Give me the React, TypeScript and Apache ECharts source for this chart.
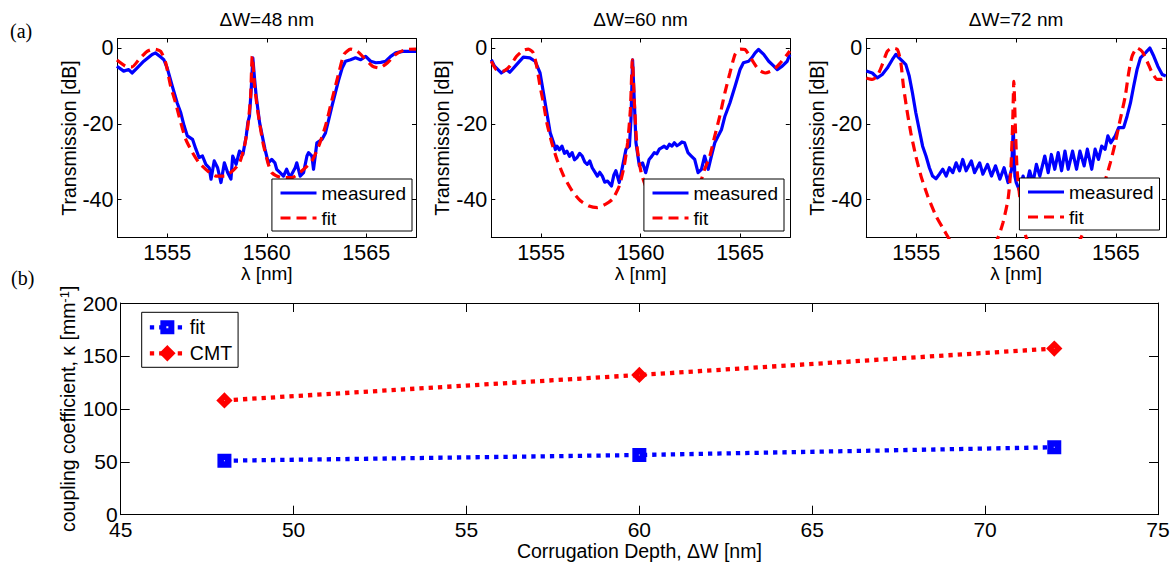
import { useEffect, useRef } from 'react';
import * as echarts from 'echarts';

const FONT = '"Liberation Sans", Arial, Helvetica, sans-serif';
const SERIF = '"Liberation Serif", "Times New Roman", serif';

// ---------- data ----------
const panelTitles = ['ΔW=48 nm', 'ΔW=60 nm', 'ΔW=72 nm'];
const lambdaTicks = [1555, 1560, 1565];
const dbTicks = [-40, -20, 0];

// ΔW = 48 nm
const meas48X = [1552.47, 1552.81, 1553.06, 1553.23, 1553.48, 1553.82, 1554.24, 1554.41, 1554.67, 1554.83, 1555.0, 1555.25, 1555.5, 1555.68, 1555.85, 1556.01, 1556.27, 1556.44, 1556.6, 1556.77, 1556.94, 1557.11, 1557.2, 1557.36, 1557.53, 1557.7, 1557.87, 1558.04, 1558.2, 1558.29, 1558.46, 1558.63, 1558.8, 1558.97, 1559.05, 1559.13, 1559.22, 1559.3, 1559.39, 1559.47, 1559.64, 1559.81, 1559.91, 1560.08, 1560.25, 1560.41, 1560.5, 1560.67, 1560.84, 1561.0, 1561.17, 1561.43, 1561.51, 1561.68, 1561.85, 1562.02, 1562.1, 1562.27, 1562.35, 1562.52, 1562.78, 1562.95, 1563.12, 1563.28, 1563.45, 1563.62, 1563.79, 1563.96, 1564.21, 1564.46, 1564.72, 1564.97, 1565.22, 1565.48, 1565.73, 1565.98, 1566.23, 1566.48, 1566.83, 1567.17, 1567.5];
const meas48Y = [-4.8, -6.1, -5.7, -6.6, -5.3, -3.5, -1.7, -1.3, -2.4, -3.1, -5.3, -10, -14.5, -17.1, -20.6, -23.2, -24.1, -26.7, -28.9, -28.5, -30.7, -31.6, -34.6, -29.8, -31.6, -35.5, -30.3, -32.9, -34.6, -28.5, -30.7, -27.2, -28.1, -23.2, -19.7, -18, -10.9, -2.6, -8.3, -12.7, -19.7, -24.1, -26.7, -30.3, -29.4, -30.3, -32, -32.9, -33.8, -32, -34.2, -31.6, -30.3, -33.8, -32.9, -28.5, -27.6, -28.5, -32, -25, -24.1, -22.4, -18.8, -15.3, -11.8, -8.3, -5.3, -3.5, -3.1, -2.6, -3.1, -2.2, -3.5, -3.9, -3.8, -3.5, -2.2, -1.3, -0.9, -0.9, -0.9];
const fit48X = [1552.47, 1552.9, 1553.23, 1553.57, 1553.99, 1554.33, 1554.67, 1554.92, 1555.17, 1555.42, 1555.68, 1555.93, 1556.27, 1556.6, 1557.02, 1557.45, 1557.87, 1558.29, 1558.63, 1558.88, 1559.05, 1559.19, 1559.27, 1559.39, 1559.56, 1559.81, 1560.06, 1560.25, 1560.75, 1561.26, 1561.77, 1562.27, 1562.61, 1562.95, 1563.28, 1563.62, 1563.88, 1564.21, 1564.55, 1564.89, 1565.31, 1565.65, 1566.07, 1566.48, 1566.99, 1567.5];
const fit48Y = [-3.2, -4.8, -5.0, -3.1, -0.9, -0.3, -0.9, -3.9, -10.1, -14.5, -19.7, -24.1, -27.6, -30.3, -32.4, -33.8, -33.8, -32.4, -30.3, -25.9, -20.6, -12.7, -2.2, -10.1, -17.1, -25, -30.3, -32.9, -34.2, -34.2, -32.4, -29.8, -25.9, -20.6, -13.6, -6.6, -1.7, -0.3, -0.9, -2.6, -4.8, -5.3, -3.9, -1.7, -0.4, -0.3];

// ΔW = 60 nm
const meas60X = [1552.5, 1552.66, 1553.0, 1553.26, 1553.43, 1553.77, 1554.11, 1554.44, 1554.7, 1554.95, 1555.12, 1555.29, 1555.46, 1555.63, 1555.72, 1555.8, 1555.92, 1556.05, 1556.18, 1556.3, 1556.43, 1556.56, 1556.68, 1556.81, 1556.94, 1557.07, 1557.2, 1557.32, 1557.45, 1557.57, 1557.7, 1557.83, 1557.95, 1558.08, 1558.2, 1558.34, 1558.54, 1558.66, 1558.76, 1558.93, 1559.1, 1559.27, 1559.44, 1559.52, 1559.6, 1559.69, 1559.77, 1559.94, 1560.1, 1560.26, 1560.43, 1560.56, 1560.69, 1560.82, 1560.94, 1561.07, 1561.19, 1561.32, 1561.45, 1561.58, 1561.7, 1561.83, 1561.95, 1562.08, 1562.21, 1562.38, 1562.55, 1562.72, 1562.89, 1563.06, 1563.22, 1563.4, 1563.56, 1563.73, 1563.9, 1564.07, 1564.24, 1564.49, 1564.75, 1565.0, 1565.17, 1565.43, 1565.59, 1565.76, 1565.93, 1566.19, 1566.44, 1566.7, 1566.87, 1567.12, 1567.37, 1567.5];
const meas60Y = [-3.1, -4.8, -6.6, -5.7, -6.4, -4.4, -2.4, -2.6, -3.5, -6.6, -11.8, -17.1, -22.4, -25, -26.8, -25.9, -26.9, -25.9, -27.8, -27.2, -28.6, -27.6, -29.5, -28.9, -27.8, -28.5, -30.1, -30.7, -29.8, -31.6, -32.7, -33.8, -32.8, -33.8, -35.4, -35.1, -36.4, -33.5, -32.4, -35.5, -31.1, -26.7, -25.9, -18.8, -3.1, -14.5, -25, -31.1, -30.3, -32.9, -29.4, -28.6, -27.6, -27.9, -26.7, -26.3, -25.9, -26.5, -25.4, -25.9, -25, -25.8, -25.4, -24.8, -25, -27.6, -28.5, -29.4, -32.9, -32, -28.5, -32, -28.5, -25, -23.2, -21.5, -18, -14.5, -10.1, -5.7, -3.9, -3.5, -2.6, -1.3, -0.4, -1.7, -3.5, -4.8, -5.7, -4.8, -3.5, -1.7];
const fit60X = [1552.5, 1552.75, 1553.09, 1553.43, 1553.77, 1554.11, 1554.36, 1554.61, 1554.78, 1554.95, 1555.12, 1555.29, 1555.54, 1555.8, 1556.14, 1556.56, 1556.98, 1557.41, 1557.83, 1558.25, 1558.59, 1558.93, 1559.18, 1559.35, 1559.49, 1559.59, 1559.69, 1559.82, 1560.03, 1560.3, 1560.7, 1561.2, 1561.7, 1562.2, 1562.7, 1563.06, 1563.22, 1563.48, 1563.73, 1563.98, 1564.24, 1564.49, 1564.75, 1565.0, 1565.25, 1565.59, 1565.93, 1566.27, 1566.7, 1567.03, 1567.37, 1567.5];
const fit60Y = [-3.5, -5.7, -6.1, -4.8, -2.2, -0.6, -0.3, -1.3, -4.8, -10.1, -14.5, -19.7, -25, -29.4, -33.8, -37.7, -40.3, -41.7, -42.1, -41.2, -39.9, -36.4, -31.1, -25, -16.2, -3.1, -14.5, -25.9, -32.9, -37, -40.5, -42, -41.8, -40.5, -37.5, -34.6, -32, -28.5, -23.2, -18, -11.8, -6.6, -1.7, -0.3, -0.4, -3.1, -5.7, -6.6, -5.7, -3.9, -1.7, -0.8];

// ΔW = 72 nm
const meas72X = [1552.5, 1552.8, 1553.05, 1553.3, 1553.55, 1553.8, 1553.98, 1554.14, 1554.31, 1554.48, 1554.65, 1554.81, 1554.98, 1555.15, 1555.32, 1555.49, 1555.66, 1555.82, 1555.99, 1556.16, 1556.33, 1556.5, 1556.66, 1556.83, 1557.0, 1557.17, 1557.33, 1557.5, 1557.76, 1557.92, 1558.18, 1558.34, 1558.57, 1558.77, 1558.97, 1559.19, 1559.4, 1559.6, 1559.78, 1559.86, 1559.94, 1560.01, 1560.18, 1560.35, 1560.51, 1560.68, 1560.85, 1561.02, 1561.19, 1561.44, 1561.61, 1561.77, 1561.94, 1562.11, 1562.28, 1562.45, 1562.61, 1562.83, 1563.03, 1563.2, 1563.41, 1563.57, 1563.79, 1563.96, 1564.13, 1564.29, 1564.46, 1564.6, 1564.75, 1564.97, 1565.14, 1565.39, 1565.56, 1565.73, 1565.89, 1566.06, 1566.23, 1566.48, 1566.7, 1566.9, 1567.1, 1567.32, 1567.5];
const meas72Y = [-6.1, -6.6, -7.9, -7, -5.3, -3.1, -1.7, -2.6, -3.5, -4.4, -7.4, -11.8, -17.1, -21.5, -25.9, -28.5, -31.6, -33.8, -34.5, -33.3, -32, -33.8, -31.6, -32.9, -30.3, -32.4, -29.4, -32.4, -29.8, -32.9, -30.3, -33.3, -30.7, -33.8, -31.1, -34.6, -31.6, -35.5, -32, -21, -33.8, -35.5, -37.7, -33.8, -36.4, -32.4, -35.5, -30.7, -33.8, -28.5, -32.9, -28.1, -32, -27.6, -32.4, -27.2, -32, -27.2, -32, -27.2, -31.1, -26.7, -32, -26.7, -29.4, -25.9, -26.7, -23.2, -25, -23.2, -21, -21, -18, -14.5, -10.1, -5.7, -2.6, -1.3, 0, -2.2, -4.8, -7, -7.4];
const fit72X = [1552.5, 1552.8, 1553.05, 1553.3, 1553.55, 1553.8, 1554.06, 1554.23, 1554.36, 1554.53, 1554.73, 1554.98, 1555.24, 1555.57, 1555.99, 1556.41, 1556.66, 1557.2, 1557.9, 1558.6, 1559.1, 1559.35, 1559.6, 1559.74, 1559.83, 1559.89, 1559.96, 1560.05, 1560.18, 1560.35, 1560.51, 1561.0, 1561.7, 1562.5, 1563.2, 1563.46, 1563.71, 1564.04, 1564.38, 1564.72, 1564.97, 1565.22, 1565.47, 1565.64, 1565.81, 1566.06, 1566.31, 1566.56, 1566.82, 1567.07, 1567.32, 1567.5];
const fit72Y = [-7.9, -8.3, -7.4, -4.4, -0.9, 0, -0.4, -3.9, -10.1, -16.2, -22.4, -28.5, -33.8, -39, -44.3, -48.2, -50.5, -56, -58, -55, -50, -46, -39.9, -32, -20, -8.8, -20, -32, -39, -46, -50, -55, -58, -56, -50.5, -47.8, -45.2, -40.8, -36.4, -30.3, -25, -18.8, -12.7, -6.6, -2.2, 0, -0.9, -3.5, -6.6, -8.3, -8.3, -7.6];

// (b) coupling coefficient
const depthNm = [48, 60, 72];
const kappaFit = [51, 56.4, 63.7];
const kappaCMT = [108, 132, 157];

const measuredX = [meas48X, meas60X, meas72X];
const measuredY = [meas48Y, meas60Y, meas72Y];
const fitX = [fit48X, fit60X, fit72X];
const fitY = [fit48Y, fit60Y, fit72Y];

const legendNames: Record<string, string> = { kappaFit: 'fit', kappaCMT: 'CMT' };

const zip = (xs: number[], ys: number[]) => xs.map((x, i) => [x, ys[i]]);

// ---------- layout ----------
const gridsA = [
  { left: 117.5, top: 38.5, width: 298.5, height: 199 },
  { left: 491.3, top: 38.5, width: 298.5, height: 199 },
  { left: 866.3, top: 38.5, width: 299.5, height: 199 },
];
const gridB = { left: 120.7, top: 303, width: 1037.3, height: 211.7 };
const legendRightA = [764, 392, 16.5];
const legendTopA = [179, 179, 178];

const BLACK = '#000';
const BLUE = '#0000ff';
const RED = '#ff0000';
const plain = (v: number) => String(v);

function buildOption() {
  const line = { color: BLACK, width: 1 };
  const xAxis: any[] = [];
  const yAxis: any[] = [];
  const series: any[] = [];
  const legend: any[] = [];
  const graphic: any[] = [];

  gridsA.forEach((g, i) => {
    xAxis.push({
      type: 'value', gridIndex: i, min: 1552.5, max: 1567.5, position: 'bottom',
      name: 'λ [nm]', nameLocation: 'middle', nameGap: 26.5, nameMoveOverlap: false,
      nameTextStyle: { color: BLACK, fontSize: 19, fontFamily: FONT },
      axisLine: { show: true, onZero: false, lineStyle: line },
      axisTick: { show: true, inside: true, length: 4, customValues: lambdaTicks, lineStyle: line },
      axisLabel: { show: true, customValues: lambdaTicks, formatter: plain, color: BLACK, fontSize: 21.5, fontFamily: FONT, margin: 5, lineHeight: 21 },
      splitLine: { show: false },
    });
    xAxis.push({
      type: 'value', gridIndex: i, min: 1552.5, max: 1567.5, position: 'top',
      axisLine: { show: true, onZero: false, lineStyle: line },
      axisTick: { show: true, inside: true, length: 4, customValues: lambdaTicks, lineStyle: line },
      axisLabel: { show: false }, splitLine: { show: false },
    });
    yAxis.push({
      type: 'value', gridIndex: i, min: -50, max: 2.5, position: 'left',
      name: 'Transmission [dB]', nameLocation: 'middle', nameGap: 39, nameMoveOverlap: false,
      nameTextStyle: { color: BLACK, fontSize: 19.5, fontFamily: FONT },
      axisLine: { show: true, onZero: false, lineStyle: line },
      axisTick: { show: true, inside: true, length: 4, customValues: dbTicks, lineStyle: line },
      axisLabel: { show: true, customValues: dbTicks, formatter: plain, color: BLACK, fontSize: 21.5, fontFamily: FONT, margin: 4 },
      splitLine: { show: false },
    });
    yAxis.push({
      type: 'value', gridIndex: i, min: -50, max: 2.5, position: 'right',
      axisLine: { show: true, onZero: false, lineStyle: line },
      axisTick: { show: true, inside: true, length: 4, customValues: dbTicks, lineStyle: line },
      axisLabel: { show: false }, splitLine: { show: false },
    });
    series.push({
      type: 'line', name: 'measured', xAxisIndex: 2 * i, yAxisIndex: 2 * i,
      data: zip(measuredX[i], measuredY[i]), symbol: 'none', clip: true,
      lineStyle: { color: BLUE, width: 3.2, join: 'round' }, itemStyle: { color: BLUE }, z: 2,
    });
    series.push({
      type: 'line', name: 'fit', xAxisIndex: 2 * i, yAxisIndex: 2 * i,
      data: zip(fitX[i], fitY[i]), symbol: 'none', clip: true, smooth: 0.2,
      lineStyle: { color: RED, width: 3.2, type: [10, 6] }, itemStyle: { color: RED }, z: 3,
    });
    legend.push({
      orient: 'vertical', right: legendRightA[i], top: legendTopA[i],
      data: ['measured', 'fit'],
      backgroundColor: '#fff', borderColor: BLACK, borderWidth: 1, borderRadius: 0,
      padding: [4, 6, 3, 7], itemGap: 5, itemWidth: 36, itemHeight: 14,
      lineStyle: { width: 3.2 },
      itemStyle: { opacity: 0, borderWidth: 0 },
      textStyle: { color: BLACK, fontSize: 19, fontFamily: FONT, lineHeight: 20 },
      selectedMode: false,
    });
    graphic.push({
      type: 'text', x: g.left + g.width / 2, y: 19,
      style: { text: panelTitles[i], fill: BLACK, font: `19px ${FONT}`, textAlign: 'center', textVerticalAlign: 'middle', align: 'center', verticalAlign: 'middle' },
    });
  });

  // panel (b)
  xAxis.push({
    type: 'value', gridIndex: 3, min: 45, max: 75, interval: 5, position: 'bottom',
    name: 'Corrugation Depth, ΔW [nm]', nameLocation: 'middle', nameGap: 26, nameMoveOverlap: false,
    nameTextStyle: { color: BLACK, fontSize: 19.5, fontFamily: FONT },
    axisLine: { show: true, onZero: false, lineStyle: line },
    axisTick: { show: true, inside: true, length: 9, lineStyle: line },
    axisLabel: { show: true, formatter: plain, color: BLACK, fontSize: 21, fontFamily: FONT, margin: 4 },
    splitLine: { show: false },
  });
  xAxis.push({
    type: 'value', gridIndex: 3, min: 45, max: 75, interval: 5, position: 'top',
    axisLine: { show: true, onZero: false, lineStyle: line },
    axisTick: { show: true, inside: true, length: 9, lineStyle: line },
    axisLabel: { show: false }, splitLine: { show: false },
  });
  yAxis.push({
    type: 'value', gridIndex: 3, min: 0, max: 200, interval: 50, position: 'left',
    name: '{a|coupling coefficient, κ [mm}{s|-1}{a|]}', nameLocation: 'middle', nameGap: 43, nameMoveOverlap: false,
    nameTextStyle: {
      color: BLACK, fontSize: 19.5, fontFamily: FONT,
      rich: {
        a: { color: BLACK, fontSize: 19.5, fontFamily: FONT },
        s: { color: BLACK, fontSize: 13, fontFamily: FONT, verticalAlign: 'top' },
      },
    },
    axisLine: { show: true, onZero: false, lineStyle: line },
    axisTick: { show: true, inside: true, length: 9, lineStyle: line },
    axisLabel: { show: true, formatter: plain, color: BLACK, fontSize: 21, fontFamily: FONT, margin: 3 },
    splitLine: { show: false },
  });
  yAxis.push({
    type: 'value', gridIndex: 3, min: 0, max: 200, interval: 50, position: 'right',
    axisLine: { show: true, onZero: false, lineStyle: line },
    axisTick: { show: true, inside: true, length: 9, lineStyle: line },
    axisLabel: { show: false }, splitLine: { show: false },
  });
  series.push({
    type: 'line', name: 'kappaFit', xAxisIndex: 6, yAxisIndex: 6,
    data: zip(depthNm, kappaFit), symbol: 'rect', symbolSize: 7.5,
    lineStyle: { color: BLUE, width: 4.3, type: [4.3, 5], cap: 'butt' },
    itemStyle: { color: '#fff', borderColor: BLUE, borderWidth: 6.5 }, z: 3,
  });
  series.push({
    type: 'line', name: 'kappaCMT', xAxisIndex: 6, yAxisIndex: 6,
    data: zip(depthNm, kappaCMT), symbol: 'diamond', symbolSize: 8.5,
    lineStyle: { color: RED, width: 4.3, type: [4.3, 5], cap: 'butt' },
    itemStyle: { color: '#fff', borderColor: RED, borderWidth: 5.5 }, z: 3,
  });
  legend.push({
    orient: 'vertical', left: 141.7, top: 312.3,
    data: ['kappaFit', 'kappaCMT'],
    formatter: (name: string) => legendNames[name] ?? name,
    backgroundColor: '#fff', borderColor: BLACK, borderWidth: 1, borderRadius: 0,
    padding: [5, 6, 4, 6], itemGap: 6, itemWidth: 35, itemHeight: 10,
    lineStyle: { width: 4.3 },
    itemStyle: { borderWidth: 6 },
    textStyle: { color: BLACK, fontSize: 19.5, fontFamily: FONT, lineHeight: 20 },
    selectedMode: false,
  });

  graphic.push({
    type: 'text', x: 10, y: 31,
    style: { text: '(a)', fill: BLACK, font: `20px ${SERIF}`, textAlign: 'left', textVerticalAlign: 'middle', align: 'left', verticalAlign: 'middle' },
  });
  graphic.push({
    type: 'text', x: 11, y: 278,
    style: { text: '(b)', fill: BLACK, font: `20px ${SERIF}`, textAlign: 'left', textVerticalAlign: 'middle', align: 'left', verticalAlign: 'middle' },
  });

  return {
    animation: false,
    backgroundColor: '#fff',
    textStyle: { fontFamily: FONT },
    grid: [...gridsA, gridB].map((g) => ({ ...g, show: false })),
    xAxis, yAxis, series, legend, graphic,
    tooltip: { show: false },
  };
}

export default function App() {
  const ref = useRef<HTMLDivElement>(null);
  useEffect(() => {
    document.body.style.margin = '0';
    if (!ref.current) return;
    const chart = echarts.init(ref.current, undefined, { renderer: 'svg' });
    chart.setOption(buildOption() as any);
    return () => chart.dispose();
  }, []);
  return <div ref={ref} style={{ width: 1176, height: 562, background: '#fff' }} />;
}
